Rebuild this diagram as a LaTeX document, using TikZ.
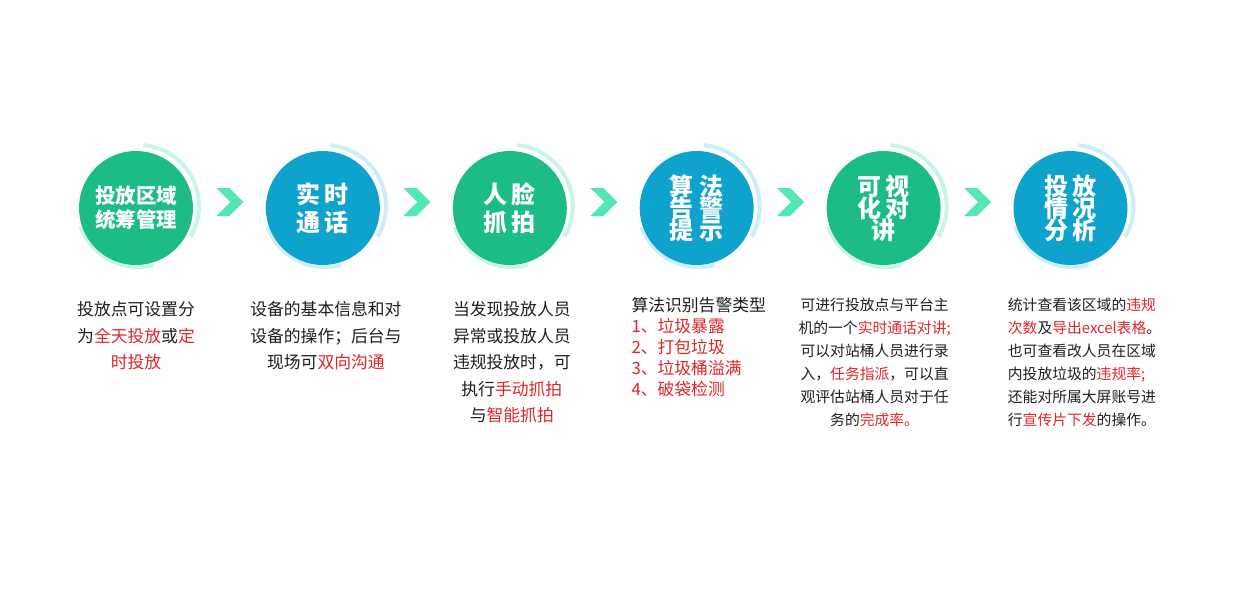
\documentclass[tikz,border=0pt]{standalone}
\usepackage{fontspec}
\setmainfont{Noto Sans CJK SC}
\usepackage{tikz}
\usetikzlibrary{positioning,calc,backgrounds}
\usepackage{xcolor}
\definecolor{ballgreen}{HTML}{1BBD85}
\definecolor{ballblue}{HTML}{0DA3CD}
\definecolor{ringgreen}{HTML}{C9F5E6}
\definecolor{ringblue}{HTML}{CBEEF9}
\definecolor{chevcol}{HTML}{55E6B6}
\definecolor{txtdark}{HTML}{1E1E1E}
\definecolor{txtred}{HTML}{E0262C}
\newcommand{\redtxt}[1]{\textcolor{txtred}{#1}}

\begin{document}
\begin{tikzpicture}[x=1pt, y=1pt,
  node distance=72.5pt,
  ball/.style={circle, minimum size=114pt, inner sep=0pt, text=white, align=center, font=\bfseries\fontsize{20.5}{24}\selectfont},
  greenball/.style={ball, fill=ballgreen},
  blueball/.style={ball, fill=ballblue},
  bigtxt/.style={font=\bfseries\fontsize{24}{28}\selectfont},
  stacktxt/.style={font=\bfseries\fontsize{24}{22}\selectfont},
  ringg/.style={draw=ringgreen, line width=4pt},
  ringb/.style={draw=ringblue, line width=4pt},
  desc/.style={text=txtdark, inner sep=0pt, align=center, font=\fontsize{16.8}{26.5}\selectfont},
  descsmall/.style={desc, font=\fontsize{14.8}{23}\selectfont},
  chev/.pic={\fill[chevcol] (-14,-14) -- (-1,-14) -- (13,0) -- (-1,14) -- (-14,14) -- (0,0) -- cycle;}
]
\lineskiplimit=-30pt
\useasboundingbox (0,0) rectangle (1243,-589);

% steps
\node[greenball] (c1) at (136,-208) {投放区域\\统筹管理};
\node[blueball, bigtxt, right=of c1] (c2) {实\hspace{4pt}时\\通\hspace{4pt}话};
\node[greenball, bigtxt, right=of c2] (c3) {人\hspace{4pt}脸\\抓\hspace{4pt}拍};
\node[blueball, stacktxt, right=of c3] (c4) {算\hspace{6pt}法\\告\hspace{6pt}警\\提\hspace{6pt}示};
\node[greenball, stacktxt, right=of c4] (c5) {可\hspace{4pt}视\\化\hspace{4pt}对\\讲};
\node[blueball, stacktxt, right=of c5] (c6) {投\hspace{4pt}放\\情\hspace{4pt}况\\分\hspace{4pt}析};

% rings behind the balls
\begin{scope}[on background layer]
\fill[white] (0,0) rectangle (1243,-589);
\foreach \c/\r in {c1/ringg, c2/ringb, c3/ringg, c4/ringb, c5/ringg, c6/ringb} {
  \draw[\r] ($(\c.center)+(2,2)+(85:61)$) arc[start angle=85, end angle=-30, radius=61];
  \draw[\r] ($(\c.center)+(2,2)+(200:61)$) arc[start angle=200, end angle=285, radius=61];
}
\end{scope}

% chevrons between steps
\foreach \a/\b in {c1/c2, c2/c3, c3/c4, c4/c5, c5/c6}
  \pic at ($(\a.east)!0.5!(\b.west)+(1,6)$) {chev};

% descriptions
\node[desc, below=36pt of c1] (d1) {投放点可设置分\\为\redtxt{全天投放}或\redtxt{定}\\\redtxt{时投放}};
\node[desc, below=36pt of c2, xshift=3pt] (d2) {设备的基本信息和对\\设备的操作；后台与\\现场可\redtxt{双向沟通}};
\node[desc, below=36pt of c3, xshift=2pt] (d3) {当发现投放人员\\异常或投放人员\\违规投放时，可\\执行\redtxt{手动抓拍}\\与\redtxt{智能抓拍}};
\node[desc, align=left, font=\fontsize{16.8}{21}\selectfont, below=32pt of c4, xshift=2pt] (d4) {算法识别告警类型\\\redtxt{1、垃圾暴露}\\\redtxt{2、打包垃圾}\\\redtxt{3、垃圾桶溢满}\\\redtxt{4、破袋检测}};
\node[descsmall, below=32.5pt of c5, xshift=-9pt] (d5) {可进行投放点与平台主\\机的一个\redtxt{实时通话对讲;}\\可以对站桶人员进行录\\入，\redtxt{任务指派}，可以直\\观评估站桶人员对于任\\务的\redtxt{完成率。}};
\node[descsmall, align=left, below=32.5pt of c6, xshift=14pt] (d6) {统计查看该区域的\redtxt{违规}\\\redtxt{次数}及\redtxt{导出excel表格}。\\也可查看改人员在区域\\内投放垃圾的\redtxt{违规率;}\\还能对所属大屏账号进\\行\redtxt{宣传片下发}的操作。};
\end{tikzpicture}
\end{document}
